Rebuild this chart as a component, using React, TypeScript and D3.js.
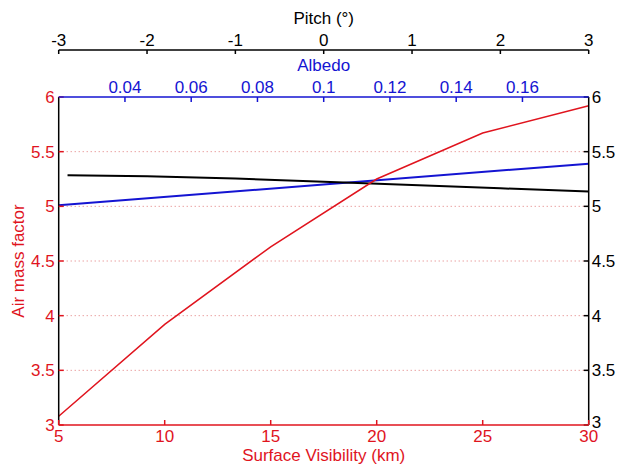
import React from "react";
import * as d3 from "d3";

// ---- data ----
const visibilityKm = [5, 10, 15, 20, 25, 30];
const amfVisibility = [3.08, 3.92, 4.63, 5.25, 5.67, 5.92];

const albedoValues = [0.02, 0.18];
const amfAlbedo = [5.01, 5.39];

const pitchDeg = [-2.9, -2, -1, 0, 1, 2, 3];
const amfPitch = [5.285, 5.275, 5.255, 5.225, 5.195, 5.165, 5.135];

const visTicks = [5, 10, 15, 20, 25, 30];
const albedoTicks = [0.04, 0.06, 0.08, 0.1, 0.12, 0.14, 0.16];
const pitchTicks = [-3, -2, -1, 0, 1, 2, 3];
const amfTicks = [3, 3.5, 4, 4.5, 5, 5.5, 6];
const gridTicks = [3.5, 4, 4.5, 5, 5.5];

const W = 617;
const H = 465;
const L = 58.7;
const R = 588.7;
const T = 97;
const B = 425;
const PITCH_Y = 50;

const RED = "#e0141e";
const BLUE = "#1414d2";
const BLACK = "#000";
const FONT = "Arial, 'Liberation Sans', sans-serif";
const FS = 17;

export default function App() {
  const xVis = d3.scaleLinear().domain([5, 30]).range([L, R]);
  const xAlb = d3.scaleLinear().domain([0.02, 0.18]).range([L, R]);
  const xPitch = d3.scaleLinear().domain([-3, 3]).range([L, R]);
  const y = d3.scaleLinear().domain([3, 6]).range([B, T]);

  const lineVis = d3
    .line<number>()
    .x((_, i) => xVis(visibilityKm[i]))
    .y((d) => y(d));
  const lineAlb = d3
    .line<number>()
    .x((_, i) => xAlb(albedoValues[i]))
    .y((d) => y(d));
  const linePitch = d3
    .line<number>()
    .x((_, i) => xPitch(pitchDeg[i]))
    .y((d) => y(d));

  const fmt = (v: number) => String(+v.toFixed(2));

  return (
    <svg
      width={W}
      height={H}
      style={{ position: "absolute", left: 0, top: 0, background: "#fff" }}
      fontFamily={FONT}
      fontSize={FS}
    >
      <rect x={0} y={0} width={W} height={H} fill="#fff" />
      {/* grid */}
      {gridTicks.map((t) => (
        <line
          key={"g" + t}
          x1={L}
          x2={R}
          y1={y(t)}
          y2={y(t)}
          stroke="#e07878"
          strokeWidth={1}
          strokeDasharray="1,3"
        />
      ))}

      {/* data lines */}
      <path d={lineAlb(amfAlbedo) || ""} fill="none" stroke={BLUE} strokeWidth={2} />
      <path d={linePitch(amfPitch) || ""} fill="none" stroke={BLACK} strokeWidth={2} />
      <path d={lineVis(amfVisibility) || ""} fill="none" stroke={RED} strokeWidth={1.5} />

      {/* left axis */}
      <line x1={L} x2={L} y1={T} y2={B} stroke={BLACK} strokeWidth={1.5} />
      {amfTicks.map((t) => (
        <g key={"l" + t}>
          <line x1={L} x2={L + 5} y1={y(t)} y2={y(t)} stroke={RED} strokeWidth={1.5} />
          <text x={L - 4} y={y(t)} dy="0.35em" textAnchor="end" fill={RED}>
            {fmt(t)}
          </text>
        </g>
      ))}
      <text
        transform={`translate(${18},${(T + B) / 2}) rotate(-90)`}
        textAnchor="middle"
        dy="0.35em"
        fill={RED}
      >
        Air mass factor
      </text>

      {/* right axis */}
      <line x1={R} x2={R} y1={T} y2={B} stroke={BLACK} strokeWidth={1.5} />
      {amfTicks.map((t) => (
        <g key={"r" + t}>
          <line x1={R - 5} x2={R} y1={y(t)} y2={y(t)} stroke={BLACK} strokeWidth={1.5} />
          <text
            x={R + 3}
            y={t === 3 ? y(t) - 3 : y(t)}
            dy="0.35em"
            textAnchor="start"
            fill={BLACK}
          >
            {fmt(t)}
          </text>
        </g>
      ))}

      {/* bottom axis */}
      <line x1={L} x2={R} y1={B} y2={B} stroke={RED} strokeWidth={1.5} />
      {visTicks.map((t) => (
        <g key={"b" + t}>
          <line x1={xVis(t)} x2={xVis(t)} y1={B} y2={B - 5} stroke={RED} strokeWidth={1.5} />
          <text x={xVis(t)} y={B + 17} textAnchor="middle" fill={RED}>
            {t}
          </text>
        </g>
      ))}
      <text x={(L + R) / 2} y={B + 36} textAnchor="middle" fill={RED}>
        Surface Visibility (km)
      </text>

      {/* top albedo axis */}
      <line x1={L} x2={R} y1={T} y2={T} stroke={BLUE} strokeWidth={1.5} />
      {albedoTicks.map((t) => (
        <g key={"a" + t}>
          <line x1={xAlb(t)} x2={xAlb(t)} y1={T} y2={T + 5} stroke={BLUE} strokeWidth={1.5} />
          <text x={xAlb(t)} y={T - 4} textAnchor="middle" fill={BLUE}>
            {fmt(t)}
          </text>
        </g>
      ))}
      <text x={(L + R) / 2} y={T - 26} textAnchor="middle" fill={BLUE}>
        Albedo
      </text>

      {/* pitch axis */}
      <line x1={L} x2={R} y1={PITCH_Y} y2={PITCH_Y} stroke={BLACK} strokeWidth={1.5} />
      {pitchTicks.map((t) => (
        <g key={"p" + t}>
          <line
            x1={xPitch(t)}
            x2={xPitch(t)}
            y1={PITCH_Y}
            y2={PITCH_Y + 4}
            stroke={BLACK}
            strokeWidth={1.5}
          />
          <text x={xPitch(t)} y={PITCH_Y - 4} textAnchor="middle" fill={BLACK}>
            {t}
          </text>
        </g>
      ))}
      <text x={(L + R) / 2} y={PITCH_Y - 26} textAnchor="middle" fill={BLACK}>
        Pitch (°)
      </text>
    </svg>
  );
}
